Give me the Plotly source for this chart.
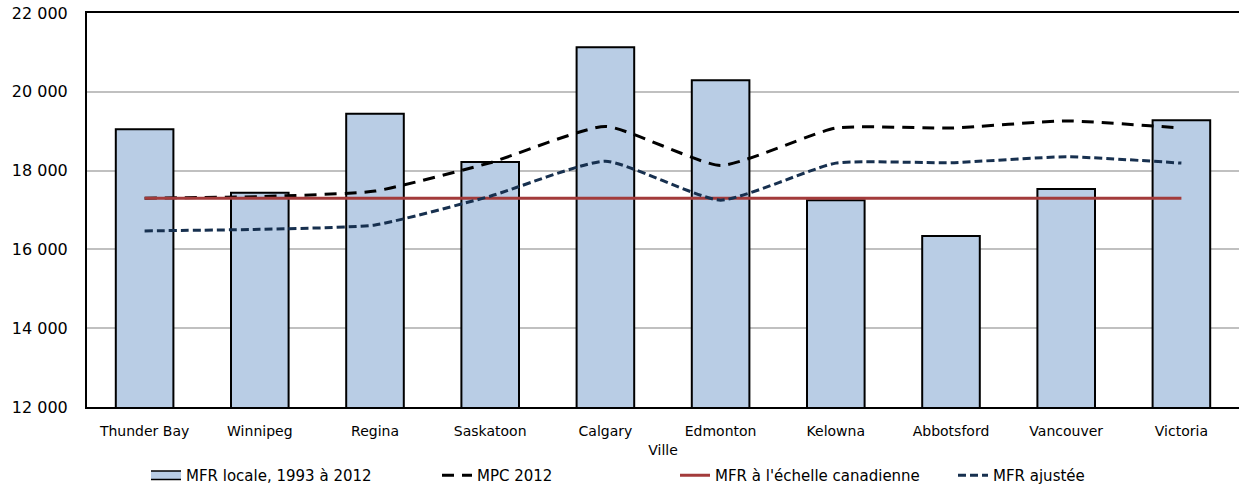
import plotly.graph_objects as go

villes = ["Thunder Bay", "Winnipeg", "Regina", "Saskatoon", "Calgary",
          "Edmonton", "Kelowna", "Abbotsford", "Vancouver", "Victoria"]
mfr_locale = [19050, 17440, 19440, 18220, 21130, 20290, 17250, 16340, 17530, 19280]
mpc_2012 = [17300, 17340, 17480, 18200, 19120, 18130, 19080, 19080, 19260, 19080]
mfr_canada = [17300] * 10
mfr_ajustee = [16470, 16510, 16620, 17350, 18240, 17250, 18190, 18200, 18350, 18190]
y_ticks = [12000, 14000, 16000, 18000, 20000, 22000]

FONT = "DejaVu Sans"
BAR_FILL = "#b9cde5"

fig = go.Figure()
fig.add_trace(go.Bar(
    x=villes, y=mfr_locale, name="MFR locale, 1993 à 2012", showlegend=False,
    marker=dict(color=BAR_FILL, line=dict(color="#000000", width=2)),
))
fig.add_trace(go.Scatter(
    x=villes, y=mpc_2012, name="MPC 2012", mode="lines", legend="legend2",
    line=dict(color="#000000", width=3, dash="12px,8px", shape="spline", smoothing=0.5),
))
fig.add_trace(go.Scatter(
    x=villes, y=mfr_canada, name="MFR à l'échelle canadienne", mode="lines", legend="legend3",
    line=dict(color="#a33b3b", width=3),
))
fig.add_trace(go.Scatter(
    x=villes, y=mfr_ajustee, name="MFR ajustée", mode="lines", legend="legend4",
    line=dict(color="#17304f", width=3, dash="8px,4px", shape="spline", smoothing=0.5),
))
# legend swatch for the bars: outlined wide rectangle (two stacked legend entries)
fig.add_trace(go.Scatter(
    x=[None], y=[None], name="MFR locale, 1993 à 2012", mode="lines", legend="legend",
    line=dict(color="#000000", width=11), hoverinfo="skip",
))
fig.add_trace(go.Scatter(
    x=[None], y=[None], name=" ", mode="lines", legend="legend5",
    line=dict(color=BAR_FILL, width=7), hoverinfo="skip",
))

W, H = 1239, 495
LEG_TOP = 459
text_starts = {"legend": 186, "legend2": 477, "legend3": 715, "legend4": 993, "legend5": 186}
legends = {}
for key, tx in text_starts.items():
    legends[key] = dict(
        xref="container", yref="container",
        x=(tx - 40) / W, xanchor="left",
        y=1 - LEG_TOP / H, yanchor="top",
        bgcolor="rgba(0,0,0,0)",
        font=dict(family=FONT, size=15, color="#000000"),
        orientation="h",
    )

fig.update_layout(
    width=W, height=H,
    margin=dict(l=87, r=0, t=13, b=88),
    paper_bgcolor="white", plot_bgcolor="white",
    font=dict(family=FONT, size=14, color="#000000"),
    bargap=0.5,
    separators=", ",
    showlegend=True,
    **legends,
)
fig.update_xaxes(
    title=dict(text="Ville", standoff=7, font=dict(family=FONT, size=14)),
    tickfont=dict(family=FONT, size=14),
    ticklabelstandoff=10,
    showline=True, linecolor="#000000", linewidth=2, mirror=True,
    ticks="", showgrid=False, automargin=False,
)
fig.update_yaxes(
    range=[12000, 22000], tickvals=y_ticks, tickformat=",d",
    tickfont=dict(family=FONT, size=16),
    ticklabelstandoff=14,
    showline=True, linecolor="#000000", linewidth=2,
    showgrid=True, gridcolor="#c0c0c0", gridwidth=1.5,
    ticks="", zeroline=False, automargin=False,
)

fig.write_html("out.html")
